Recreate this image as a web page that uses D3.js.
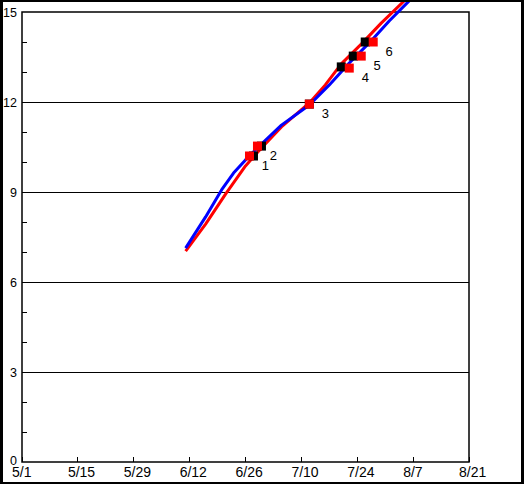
<!DOCTYPE html>
<html>
<head>
<meta charset="utf-8">
<script src="https://cdn.jsdelivr.net/npm/d3@7"></script>
<style>
html,body{margin:0;padding:0;background:#fff;}
svg{display:block;}
</style>
</head>
<body>
<svg id="chart" width="524" height="484"></svg>
<script>
// ---- data ----
const xTickLabels = ["5/1","5/15","5/29","6/12","6/26","7/10","7/24","8/7","8/21"];
const yTickValues = [0,3,6,9,12,15];

const blueDates  = ["6/11","6/16","6/20","6/23","6/26","6/30","7/5","7/12","7/17","7/22","7/27","8/1","8/6"];
const blueValues = [7.13, 8.17, 9.07, 9.63, 10.07, 10.6, 11.23, 11.9, 12.57, 13.3, 13.97, 14.7, 15.37];

const redDates  = ["6/11","6/16","6/21","6/26","6/30","7/5","7/12","7/16","7/20","7/25","7/30","8/5"];
const redValues = [7.03, 7.93, 8.93, 9.87, 10.47, 11.17, 11.97, 12.57, 13.27, 13.93, 14.63, 15.4];

const markerLabels = ["1","2","3","4","5","6"];
const blackMarkerDates  = ["6/28","6/30","7/12","7/20","7/23","7/26"];
const blackMarkerValues = [10.2, 10.53, 11.93, 13.17, 13.53, 14.0];
const redMarkerDates  = ["6/27","6/29","7/12","7/22","7/25","7/28"];
const redMarkerValues = [10.2, 10.53, 11.93, 13.13, 13.53, 14.0];

// ---- helpers ----
const parse = s => { const [m,d] = s.split("/").map(Number); return new Date(2000, m-1, d); };

const svg = d3.select("#chart");
const W = 524, H = 484;
const L = 22, R = 469, T = 12, B = 462;

const x = d3.scaleTime().domain([parse("5/1"), parse("8/21")]).range([L, R]);
const y = d3.scaleLinear().domain([0, 15]).range([B, T]);

// background
svg.append("rect").attr("x",0).attr("y",0).attr("width",W).attr("height",H).attr("fill","#fff");

// grid lines at majors (not 0 / 15)
svg.append("g").selectAll("line").data(yTickValues.filter(v => v > 0 && v < 15)).join("line")
  .attr("x1", L).attr("x2", R).attr("y1", d => y(d)).attr("y2", d => y(d))
  .attr("stroke", "#000").attr("stroke-width", 1).attr("shape-rendering","crispEdges");

// y axis (minor ticks inside, labels left)
const yMinor = d3.range(0, 16).filter(v => v % 3 !== 0);
svg.append("g").selectAll("line").data(yMinor).join("line")
  .attr("x1", L).attr("x2", L + 5).attr("y1", d => y(d)).attr("y2", d => y(d))
  .attr("stroke", "#000").attr("stroke-width", 1).attr("shape-rendering","crispEdges");

svg.append("g").selectAll("text").data(yTickValues).join("text")
  .attr("x", 17).attr("y", d => y(d) - (d === 0 ? 2 : 0)).attr("dy", "0.36em")
  .attr("text-anchor", "end")
  .attr("font-family", "Liberation Sans, Arial, sans-serif").attr("font-size", 12.5)
  .text(d => d);

// x axis ticks and labels
const xTicks = xTickLabels.map(parse);
svg.append("g").selectAll("line").data(xTicks).join("line")
  .attr("x1", d => x(d)).attr("x2", d => x(d)).attr("y1", B).attr("y2", B - 5)
  .attr("stroke", "#000").attr("stroke-width", 1).attr("shape-rendering","crispEdges");
svg.append("g").selectAll("text").data(xTickLabels).join("text")
  .attr("x", d => x(parse(d)) - 10).attr("y", 477)
  .attr("text-anchor", "start")
  .attr("font-family", "Liberation Sans, Arial, sans-serif").attr("font-size", 14)
  .text(d => d);

// plot frame
svg.append("rect").attr("x", L).attr("y", T).attr("width", R - L).attr("height", B - T)
  .attr("fill", "none").attr("stroke", "#000").attr("stroke-width", 1.5);

// lines
const line = d3.line().x(d => x(d[0])).y(d => y(d[1]));
const redData = redDates.map((d,i) => [parse(d), redValues[i]]);
const blueData = blueDates.map((d,i) => [parse(d), blueValues[i]]);
svg.append("path").datum(redData).attr("d", line)
  .attr("fill","none").attr("stroke","#ff0000").attr("stroke-width",3).attr("stroke-linejoin","round");
svg.append("path").datum(blueData).attr("d", line)
  .attr("fill","none").attr("stroke","#0000ff").attr("stroke-width",3).attr("stroke-linejoin","round");

// markers
const S = 9;
svg.append("g").selectAll("rect").data(blackMarkerDates.map((d,i)=>[parse(d), blackMarkerValues[i]])).join("rect")
  .attr("x", d => x(d[0]) - S/2).attr("y", d => y(d[1]) - S/2).attr("width", S).attr("height", S)
  .attr("fill", "#000");
const redM = redMarkerDates.map((d,i)=>[parse(d), redMarkerValues[i], markerLabels[i]]);
svg.append("g").selectAll("rect").data(redM).join("rect")
  .attr("x", d => x(d[0]) - S/2).attr("y", d => y(d[1]) - S/2).attr("width", S).attr("height", S)
  .attr("fill", "#ff0000");
svg.append("g").selectAll("text").data(redM).join("text")
  .attr("x", d => x(d[0]) + 16).attr("y", d => y(d[1]) + 14)
  .attr("text-anchor", "middle")
  .attr("font-family", "Liberation Sans, Arial, sans-serif").attr("font-size", 13)
  .text(d => d[2]);

// outer window border
svg.append("rect").attr("x",0).attr("y",0).attr("width",3).attr("height",H).attr("fill","#000");
svg.append("rect").attr("x",W-3).attr("y",0).attr("width",3).attr("height",H).attr("fill","#000");
svg.append("rect").attr("x",0).attr("y",0).attr("width",W).attr("height",2).attr("fill","#000");
svg.append("rect").attr("x",0).attr("y",H-2).attr("width",W).attr("height",2).attr("fill","#000");
</script>
</body>
</html>
